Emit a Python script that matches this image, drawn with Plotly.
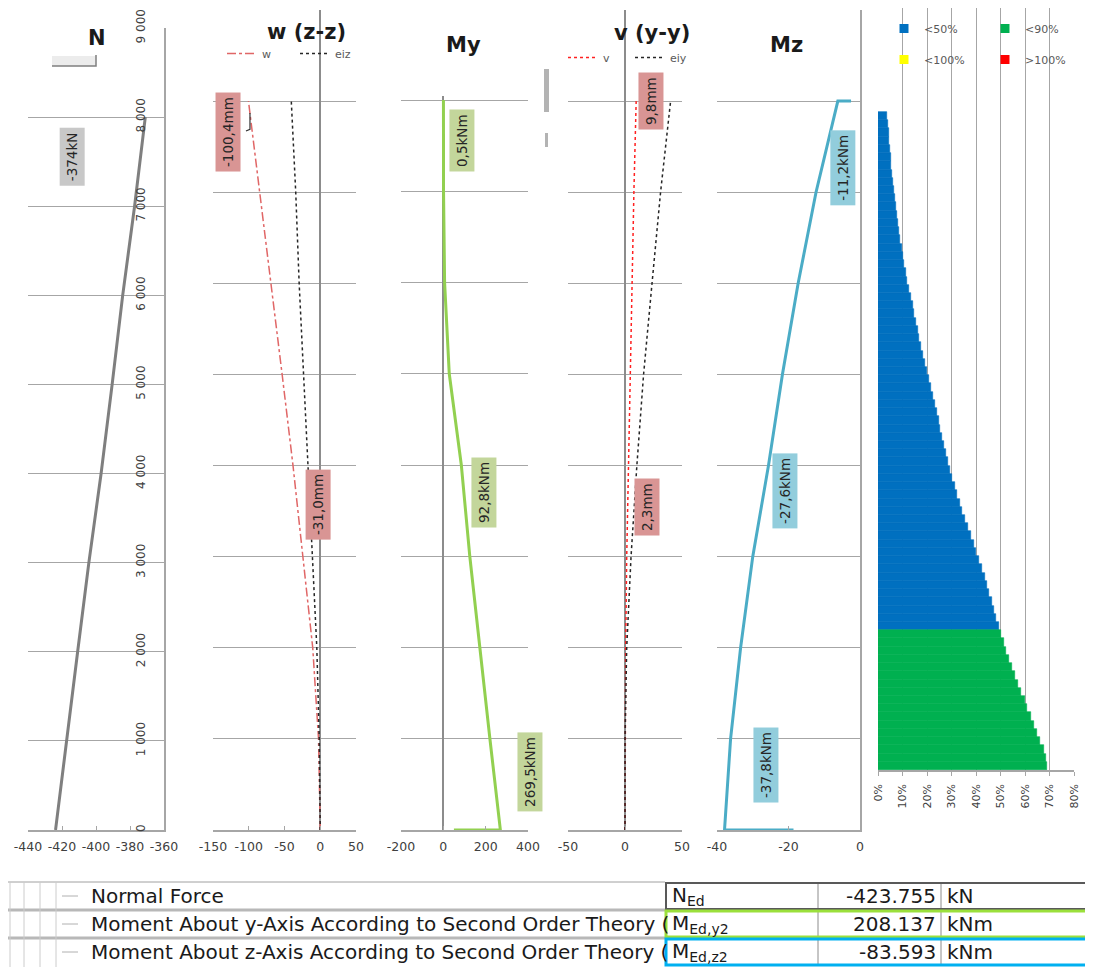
import plotly.graph_objects as go

# the page body adds an 8 px margin, so the figure is sized/offset to land on the 1093x967 frame
PAGE_OFF = 8
FIG_W, FIG_H = 1093 - PAGE_OFF, 967 - PAGE_OFF

# ---------------- data ----------------
heights = [0, 1000, 2000, 3000, 4000, 5000, 6000, 7000, 8000]
normal_force = [-423.8, -417.5, -410.8, -404.2, -397.0, -390.5, -384.3, -377.3, -371.0]
w_defl = [0.0, -2.4, -10.5, -23.8, -38.1, -53.3, -69.0, -85.7, -100.4]
eiz_defl = [0.0, -1.4, -4.8, -11.0, -16.7, -23.8, -29.5, -34.3, -40.5]
my_heights = [0, 0, 1000, 2000, 3000, 4000, 4500, 5000, 6000, 7000, 8000]
my_moment = [50.0, 269.5, 220.0, 172.0, 125.0, 85.0, 58.0, 28.0, 6.0, 1.0, 0.5]
v_defl = [0.0, 0.1, 0.6, 1.5, 3.0, 4.6, 6.0, 7.8, 9.8]
eiy_defl = [0.0, 0.0, 1.5, 5.3, 10.4, 16.3, 23.7, 31.2, 40.0]
mz_heights = [0, 0, 1000, 2000, 3000, 4000, 5000, 6000, 7000, 8000, 8000]
mz_moment = [-18.6, -37.9, -36.2, -33.4, -30.0, -25.6, -21.7, -17.3, -12.3, -6.2, -2.5]

# utilisation per 100 mm section, bottom (50 mm) to top (7950 mm), in %
section_centres = [50, 150, 250, 350, 450, 550, 650, 750, 850, 950,
                   1050, 1150, 1250, 1350, 1450, 1550, 1650, 1750, 1850, 1950,
                   2050, 2150, 2250, 2350, 2450, 2550, 2650, 2750, 2850, 2950,
                   3050, 3150, 3250, 3350, 3450, 3550, 3650, 3750, 3850, 3950,
                   4050, 4150, 4250, 4350, 4450, 4550, 4650, 4750, 4850, 4950,
                   5050, 5150, 5250, 5350, 5450, 5550, 5650, 5750, 5850, 5950,
                   6050, 6150, 6250, 6350, 6450, 6550, 6650, 6750, 6850, 6950,
                   7050, 7150, 7250, 7350, 7450, 7550, 7650, 7750, 7850, 7950]
utilisation = [69.0, 68.5, 67.6, 66.3, 65.0, 63.7, 62.4, 61.0, 59.8, 58.5,
               57.2, 56.0, 54.8, 53.6, 52.4, 51.3, 50.2, 49.2, 48.2, 47.3,
               46.4, 45.5, 44.5, 43.5, 42.5, 41.4, 40.2, 39.0, 37.8, 36.6,
               35.4, 34.3, 33.3, 32.3, 31.3, 30.4, 29.5, 28.7, 27.9, 27.1,
               26.3, 25.5, 24.7, 23.9, 23.1, 22.3, 21.5, 20.7, 19.9, 19.1,
               18.3, 17.6, 16.9, 16.2, 15.5, 14.8, 14.1, 13.4, 12.7, 12.0,
               11.4, 10.8, 10.2, 9.6, 9.1, 8.6, 8.1, 7.7, 7.3, 6.9,
               6.5, 6.1, 5.8, 5.5, 5.2, 4.9, 4.6, 4.3, 4.0, 3.8]
util_classes = ["<50%", "<90%", "<100%", ">100%"]
util_limits = [50, 90, 100, 1e9]

n_ticks = [0, 1000, 2000, 3000, 4000, 5000, 6000, 7000, 8000, 9000]
n_tick_labels = ["0", "1 000", "2 000", "3 000", "4 000", "5 000", "6 000", "7 000", "8 000", "9 000"]
n_x_ticks = [-440, -420, -400, -380, -360]
n_x_labels = ["-440", "-420", "-400", "-380", "-360"]
w_x_ticks = [-150, -100, -50, 0, 50]
w_x_labels = ["-150", "-100", "-50", "0", "50"]
my_x_ticks = [-200, 0, 200, 400]
my_x_labels = ["-200", "0", "200", "400"]
v_x_ticks = [-50, 0, 50]
v_x_labels = ["-50", "0", "50"]
mz_x_ticks = [-40, -20, 0]
mz_x_labels = ["-40", "-20", "0"]
pct_ticks = [0, 0.1, 0.2, 0.3, 0.4, 0.5, 0.6, 0.7, 0.8]
pct_tick_labels = ["0%", "10%", "20%", "30%", "40%", "50%", "60%", "70%", "80%"]

panel_titles = ["N", "w (z-z)", "My", "v (y-y)", "Mz"]
value_labels = ["-374kN", "-100,4mm", "-31,0mm", "0,5kNm", "92,8kNm", "269,5kNm",
                "9,8mm", "2,3mm", "-11,2kNm", "-27,6kNm", "-37,8kNm"]

table_labels = ["Normal Force",
                "Moment About y-Axis According to Second Order Theory (",
                "Moment About z-Axis According to Second Order Theory ("]
table_symbols = ["N<sub>Ed</sub>", "M<sub>Ed,y2</sub>", "M<sub>Ed,z2</sub>"]
table_values = ["-423.755", "208.137", "-83.593"]
table_units = ["kN", "kNm", "kNm"]

# ---------------- styling / placement ----------------
FONT = "DejaVu Sans, sans-serif"
GRID = "#a6a6a6"
AXIS = "#a6a6a6"
TICKFONT = dict(family=FONT, size=12.5, color="#404040")
C_N = "#7f7f7f"
C_W = "#e06666"
C_V = "#ff2020"
C_EI = "#262626"
C_MY = "#92d050"
C_MZ = "#4bacc6"
UTIL_COLORS = ["#0070c0", "#00b050", "#ffff00", "#ff0000"]


def px(x):
    return (x - PAGE_OFF) / FIG_W


def py(y):
    return 1 - (y - PAGE_OFF) / FIG_H


fig = go.Figure()

# --- traces ---
fig.add_trace(go.Scatter(x=normal_force, y=heights, mode="lines", xaxis="x", yaxis="y",
                         line=dict(color=C_N, width=3), showlegend=False))
fig.add_trace(go.Scatter(x=w_defl, y=heights, mode="lines", xaxis="x2", yaxis="y2", name="w",
                         line=dict(color=C_W, width=1.5, dash="dashdot"), legend="legend3"))
fig.add_trace(go.Scatter(x=eiz_defl, y=heights, mode="lines", xaxis="x2", yaxis="y2", name="eiz",
                         line=dict(color=C_EI, width=1.5, dash="3px,3px"), legend="legend3"))
fig.add_trace(go.Scatter(x=my_moment, y=my_heights, mode="lines", xaxis="x3", yaxis="y3",
                         line=dict(color=C_MY, width=3), showlegend=False))
fig.add_trace(go.Scatter(x=v_defl, y=heights, mode="lines", xaxis="x4", yaxis="y4", name="v",
                         line=dict(color=C_V, width=1.5, dash="3px,3px"), legend="legend4"))
fig.add_trace(go.Scatter(x=eiy_defl, y=heights, mode="lines", xaxis="x4", yaxis="y4", name="eiy",
                         line=dict(color=C_EI, width=1.5, dash="3px,3px"), legend="legend4"))
fig.add_trace(go.Scatter(x=mz_moment, y=mz_heights, mode="lines", xaxis="x5", yaxis="y5",
                         line=dict(color=C_MZ, width=3), showlegend=False))

lower = 0
for k, (cls, lim) in enumerate(zip(util_classes, util_limits)):
    xs = [u / 100 for u in utilisation if lower <= u < lim]
    ys = [s for s, u in zip(section_centres, utilisation) if lower <= u < lim]
    fig.add_trace(go.Bar(x=xs, y=ys, orientation="h", width=100, xaxis="x6", yaxis="y6",
                         name=cls, legendgroup=cls, showlegend=False,
                         marker=dict(color=UTIL_COLORS[k], line=dict(color=UTIL_COLORS[k], width=0.6))))
    # legend key for the class (square marker, no data points)
    fig.add_trace(go.Scatter(x=[None], y=[None], mode="markers", xaxis="x6", yaxis="y6",
                             name=cls, legendgroup=cls,
                             marker=dict(symbol="square", size=9, color=UTIL_COLORS[k]),
                             legend="legend" if k in (0, 2) else "legend2"))
    lower = lim


# --- axes ---
def xax(dom, rng, tvals, tlabels, anchor, **kw):
    d = dict(domain=[px(dom[0]), px(dom[1])], range=rng, tickvals=tvals, ticktext=tlabels,
             anchor=anchor, ticks="inside", ticklen=4, tickcolor=AXIS, showline=True,
             linecolor=AXIS, linewidth=1.5, showgrid=False, zeroline=False, tickfont=TICKFONT,
             tickangle=0, ticklabelstandoff=4, fixedrange=True, automargin=False)
    d.update(kw)
    return d


def yax(top_px, bottom_px, rng, grid, anchor, **kw):
    d = dict(domain=[py(bottom_px), py(top_px)], range=rng, tickvals=grid, anchor=anchor,
             showticklabels=False, ticks="", showgrid=True, gridcolor=GRID, gridwidth=1,
             zeroline=False, showline=False, fixedrange=True, automargin=False)
    d.update(kw)
    return d


zl = dict(zeroline=True, zerolinecolor="#8c8c8c", zerolinewidth=1.5)

fig.update_layout(
    template="none",
    xaxis=xax((28, 164), [-440, -360], n_x_ticks, n_x_labels, "y"),
    yaxis=yax(28, 830, [0, 9000], n_ticks, "x", side="right", showline=True, linecolor=AXIS,
              linewidth=1.5, showticklabels=True, ticktext=n_tick_labels,
              ticklabelposition="inside", tickangle=-90, ticklabelstandoff=16,
              ticklabeloverflow="allow", tickfont=dict(family=FONT, size=12, color="#404040")),
    xaxis2=xax((213, 356), [-150, 50], w_x_ticks, w_x_labels, "y2", **zl),
    yaxis2=yax(10, 830, [0, 9000], n_ticks[1:9], "x2"),
    xaxis3=xax((401, 528), [-200, 400], my_x_ticks, my_x_labels, "y3", **zl),
    yaxis3=yax(95.5, 830, [0, 8050], n_ticks[1:9], "x3"),
    xaxis4=xax((568, 682), [-50, 50], v_x_ticks, v_x_labels, "y4", **zl),
    yaxis4=yax(10, 830, [0, 9000], n_ticks[1:10], "x4"),
    xaxis5=xax((717, 860), [-40, 0], mz_x_ticks, mz_x_labels, "y5"),
    yaxis5=yax(10, 830, [0, 9000], n_ticks[1:10], "x5", side="right", showline=True,
               linecolor=AXIS, linewidth=1.5),
    xaxis6=xax((878, 1074), [0, 0.8], pct_ticks, pct_tick_labels, "y6",
               tickangle=-90, ticks="outside", showgrid=True, gridcolor=GRID, gridwidth=1.2,
               tickfont=dict(family=FONT, size=11, color="#404040")),
    yaxis6=yax(PAGE_OFF, 770, [0, 8000 * (770 - PAGE_OFF) / 658], None, "x6", showgrid=False),
)

LEG = dict(bgcolor="rgba(0,0,0,0)", borderwidth=0, itemclick=False, itemdoubleclick=False,
           xanchor="left", yanchor="top")
fig.update_layout(
    width=FIG_W, height=FIG_H, margin=dict(l=0, r=0, t=0, b=0, pad=0, autoexpand=False),
    paper_bgcolor="white", plot_bgcolor="rgba(0,0,0,0)", barmode="overlay", bargap=0,
    font=dict(family=FONT, color="#404040"),
    legend=dict(x=px(884), y=py(14), font=dict(family=FONT, size=11, color="#595959"),
                tracegroupgap=12, **LEG),
    legend2=dict(x=px(985), y=py(14), font=dict(family=FONT, size=11, color="#595959"),
                 tracegroupgap=12, **LEG),
    legend3=dict(x=px(222), y=py(39), orientation="h", entrywidth=28, entrywidthmode="pixels",
                 font=dict(family=FONT, size=11, color="#595959"), **LEG),
    legend4=dict(x=px(563), y=py(43), orientation="h", entrywidth=22, entrywidthmode="pixels",
                 font=dict(family=FONT, size=11, color="#595959"), **LEG),
)

# --- titles ---
title_pos = [(97, 38), (306, 32), (463, 45), (652, 33), (786, 45)]
for t, (tx, ty) in zip(panel_titles, title_pos):
    fig.add_annotation(x=px(tx), y=py(ty), xref="paper", yref="paper", text=f"<b>{t}</b>",
                       showarrow=False, xanchor="center", yanchor="middle",
                       font=dict(family=FONT, size=21, color="#1a1a1a"))

# --- value labels (rotated boxes) ---
label_place = [("x", "y", -414, 7552, "#c8c8c8", 0),
               ("x2", "y2", -129, 7661, "#d99594", 0),
               ("x2", "y2", -3, 3567, "#d99594", 0),
               ("x3", "y3", 88, 7562, "#c3d69b", 0),
               ("x3", "y3", 192, 3704, "#c3d69b", 0),
               ("x3", "y3", 395, 636, "#c3d69b", 3),
               ("x4", "y4", 22.8, 8001, "#d99594", 0),
               ("x4", "y4", 19.3, 3545, "#d99594", 0),
               ("x5", "y5", -4.8, 7266, "#92cddc", 0),
               ("x5", "y5", -21, 3721, "#92cddc", 0),
               ("x5", "y5", -26.3, 713, "#92cddc", 0)]
for txt, (xr, yr, lx, ly, bg, xs) in zip(value_labels, label_place):
    fig.add_annotation(x=lx, y=ly, xref=xr, yref=yr, text=txt, showarrow=False, textangle=-90,
                       bgcolor=bg, borderpad=4, xshift=xs, xanchor="center", yanchor="middle",
                       font=dict(family=FONT, size=13.5, color="#262626"))

shapes = []
# leader line of the -100,4mm label
shapes.append(dict(type="path", xref="x2", yref="y2", path="M -98.3 7870 L -98.3 7690 L -103.9 7672",
                   line=dict(color="#333333", width=1.2)))
# small legend-key remnant in N panel
shapes.append(dict(type="rect", xref="paper", yref="paper", x0=px(52), x1=px(96), y0=py(66), y1=py(56),
                   fillcolor="#ececec", line=dict(width=0)))
shapes.append(dict(type="path", xref="paper", yref="paper",
                   path=f"M {px(52)} {py(66)} L {px(96)} {py(66)} L {px(96)} {py(55)}",
                   line=dict(color="#7f7f7f", width=1.5)))
# scrollbar remnants left of the v panel
shapes.append(dict(type="rect", xref="paper", yref="paper", x0=px(544), x1=px(549), y0=py(112), y1=py(69),
                   fillcolor="#b3b3b3", line=dict(width=0)))
shapes.append(dict(type="rect", xref="paper", yref="paper", x0=px(545), x1=px(548), y0=py(147), y1=py(133),
                   fillcolor="#b3b3b3", line=dict(width=0)))

# ---------------- table ----------------
row_top = [882, 910, 938]
row_h = 28
TFONT = dict(family="DejaVu Sans, sans-serif", size=20, color="#1a1a1a")
shapes.append(dict(type="line", xref="paper", yref="paper", x0=px(8), x1=px(665), y0=py(882), y1=py(882),
                   line=dict(color="#a0a0a0", width=1)))
for yy in (910, 938):
    shapes.append(dict(type="line", xref="paper", yref="paper", x0=px(8), x1=px(665), y0=py(yy), y1=py(yy),
                       line=dict(color="#b8b8b8", width=3)))
for xx in (10, 24, 40, 56):
    shapes.append(dict(type="line", xref="paper", yref="paper", x0=px(xx), x1=px(xx), y0=py(882), y1=py(967),
                       line=dict(color="#cccccc", width=1)))
border_colors = ["#595959", "#9be03c", "#00b0f0"]
for i, rt in enumerate(row_top):
    cy = rt + row_h / 2
    shapes.append(dict(type="line", xref="paper", yref="paper", x0=px(62), x1=px(78), y0=py(cy), y1=py(cy),
                       line=dict(color="#b0b0b0", width=1)))
    for xx in (818, 941):
        shapes.append(dict(type="line", xref="paper", yref="paper", x0=px(xx), x1=px(xx),
                           y0=py(rt + 1), y1=py(rt + row_h - 1), line=dict(color="#8c8c8c", width=1)))
    shapes.append(dict(type="rect", xref="paper", yref="paper", x0=px(666), x1=px(1092),
                       y0=py(rt + row_h - 1), y1=py(rt + 1),
                       line=dict(color=border_colors[i], width=3 if i else 2)))
    fig.add_annotation(x=px(89), y=py(cy), xref="paper", yref="paper", text=table_labels[i],
                       showarrow=False, xanchor="left", yanchor="middle", align="left",
                       font=TFONT)
    fig.add_annotation(x=px(670), y=py(cy), xref="paper", yref="paper", text=table_symbols[i],
                       showarrow=False, xanchor="left", yanchor="middle", font=TFONT)
    fig.add_annotation(x=px(938), y=py(cy), xref="paper", yref="paper", text=table_values[i],
                       showarrow=False, xanchor="right", yanchor="middle", font=TFONT)
    fig.add_annotation(x=px(945), y=py(cy), xref="paper", yref="paper", text=table_units[i],
                       showarrow=False, xanchor="left", yanchor="middle", font=TFONT)

fig.update_layout(shapes=shapes)
fig.write_html("out.html")
